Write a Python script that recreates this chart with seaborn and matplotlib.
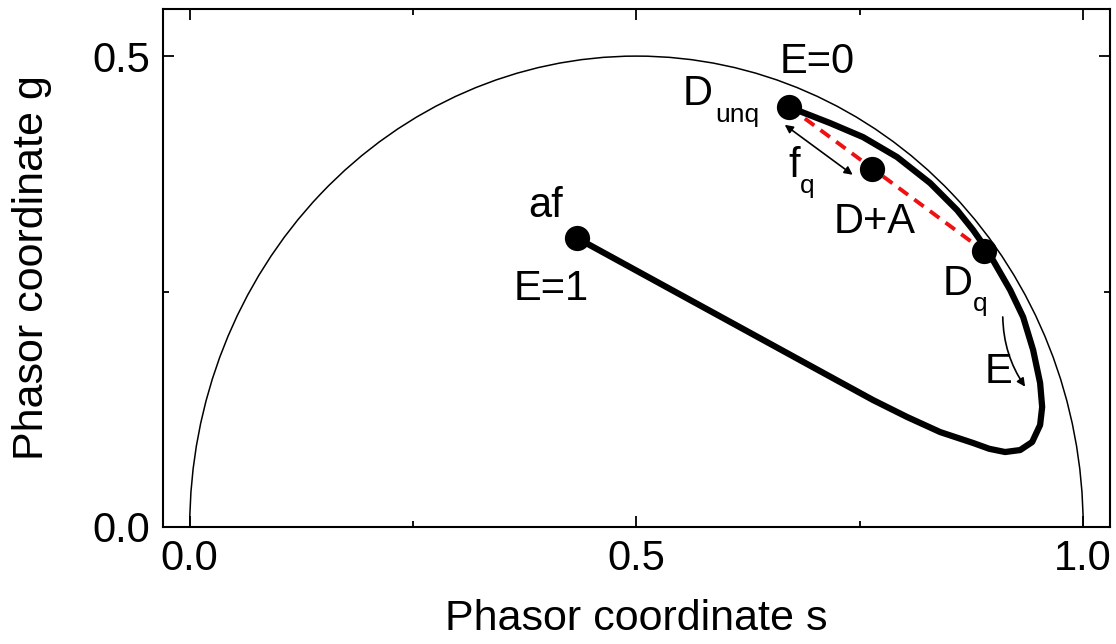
import numpy as np
import pandas as pd
import matplotlib
matplotlib.use("Agg")
import matplotlib.pyplot as plt
from matplotlib.patches import Arc
from matplotlib.ticker import MultipleLocator
import seaborn as sns

# ---- data ----
curve_s = [0.6708, 0.7167, 0.7536, 0.7917, 0.8287, 0.8589, 0.8768, 0.8925,
           0.9183, 0.9328, 0.9440, 0.9518, 0.9541, 0.9518, 0.9429, 0.9295, 0.9126,
           0.8950, 0.8768, 0.8399, 0.8029, 0.7648, 0.7279, 0.4334]
curve_g = [0.4459, 0.4289, 0.4140, 0.3928, 0.3652, 0.3365, 0.3153, 0.2941,
           0.2516, 0.2229, 0.1879, 0.1529, 0.1274, 0.1083, 0.0902, 0.0817, 0.0796,
           0.0830, 0.0892, 0.1008, 0.1168, 0.1348, 0.1539, 0.3068]

point_names = ["Dunq", "D+A", "Dq", "af"]
point_s = [0.671, 0.764, 0.889, 0.433]
point_g = [0.446, 0.380, 0.293, 0.307]

fret_s = [0.671, 0.889]
fret_g = [0.446, 0.293]

x_ticks = [0.0, 0.5, 1.0]
y_ticks = [0.0, 0.5]
x_label = "Phasor coordinate s"
y_label = "Phasor coordinate g"

# ---- style ----
sns.set_theme(style="ticks")
plt.rcParams["font.family"] = ["Liberation Sans", "DejaVu Sans"]
plt.rcParams["text.color"] = "black"
plt.rcParams["axes.labelcolor"] = "black"
plt.rcParams["xtick.color"] = "black"
plt.rcParams["ytick.color"] = "black"

FS = 30
SUB = 19

fig = plt.figure(figsize=(11.16, 6.44), dpi=100)
ax = fig.add_axes([0.146, 0.1817, 0.8486, 0.8043])

# universal semicircle
ax.add_patch(Arc((0.5, 0.0), 1.0, 1.0, theta1=0, theta2=180, color="black", lw=1.1))

curve_df = pd.DataFrame({"s": curve_s, "g": curve_g})
sns.lineplot(data=curve_df, x="s", y="g", sort=False, estimator=None,
             color="black", lw=4.5, ax=ax)
ax.lines[-1].set_solid_joinstyle("round")
ax.lines[-1].set_solid_capstyle("round")

fret_df = pd.DataFrame({"s": fret_s, "g": fret_g})
sns.lineplot(data=fret_df, x="s", y="g", sort=False, estimator=None,
             color="#ee1111", lw=2.8, linestyle=(0, (3, 2)), ax=ax)

pts_df = pd.DataFrame({"name": point_names, "s": point_s, "g": point_g})
sns.scatterplot(data=pts_df, x="s", y="g", color="black", s=330,
                edgecolor="black", linewidth=0, zorder=5, ax=ax)

# arrows
ax.annotate("", xy=(0.742, 0.374), xytext=(0.666, 0.427),
            arrowprops=dict(arrowstyle="<|-|>", lw=1.2, color="black",
                            mutation_scale=12, shrinkA=0, shrinkB=0))
ax.annotate("", xy=(0.935, 0.149), xytext=(0.910, 0.223),
            arrowprops=dict(arrowstyle="-|>", lw=1.2, color="black",
                            mutation_scale=12, shrinkA=0, shrinkB=0,
                            connectionstyle="arc3,rad=0.15"))

# labels
ax.text(0.702, 0.482, "E=0", fontsize=FS, ha="center", va="baseline")
ax.text(0.5857, 0.448, "D", fontsize=FS, ha="right", va="baseline")
ax.text(0.588, 0.430, "unq", fontsize=SUB, ha="left", va="baseline")
ax.text(0.670, 0.3716, "f", fontsize=FS, ha="left", va="baseline")
ax.text(0.683, 0.355, "q", fontsize=SUB, ha="left", va="baseline")
ax.text(0.767, 0.312, "D+A", fontsize=FS, ha="center", va="baseline")
ax.text(0.843, 0.246, "D", fontsize=FS, ha="left", va="baseline")
ax.text(0.877, 0.229, "q", fontsize=SUB, ha="left", va="baseline")
ax.text(0.890, 0.153, "E", fontsize=FS, ha="left", va="baseline")
ax.text(0.398, 0.329, "af", fontsize=FS, ha="center", va="baseline")
ax.text(0.405, 0.241, "E=1", fontsize=FS, ha="center", va="baseline")

ax.set_xlim(-0.03, 1.03)
ax.set_ylim(0.0, 0.55)
ax.set_xticks(x_ticks)
ax.set_yticks(y_ticks)
ax.set_xticklabels([f"{v:.1f}" for v in x_ticks])
ax.set_yticklabels([f"{v:.1f}" for v in y_ticks])
ax.xaxis.set_minor_locator(MultipleLocator(0.25))
ax.yaxis.set_minor_locator(MultipleLocator(0.25))
ax.tick_params(which="both", direction="in", top=True, right=True,
               labelsize=FS, width=1.3, color="black", labelcolor="black")
ax.tick_params(which="major", length=8, pad=9)
ax.tick_params(which="minor", length=4.5)
for sp in ax.spines.values():
    sp.set_linewidth(1.5)
    sp.set_color("black")

ax.set_xlabel(x_label, fontsize=31, labelpad=14)
ax.set_ylabel(y_label, fontsize=31, labelpad=29)

fig.savefig("out.png", dpi=100)
